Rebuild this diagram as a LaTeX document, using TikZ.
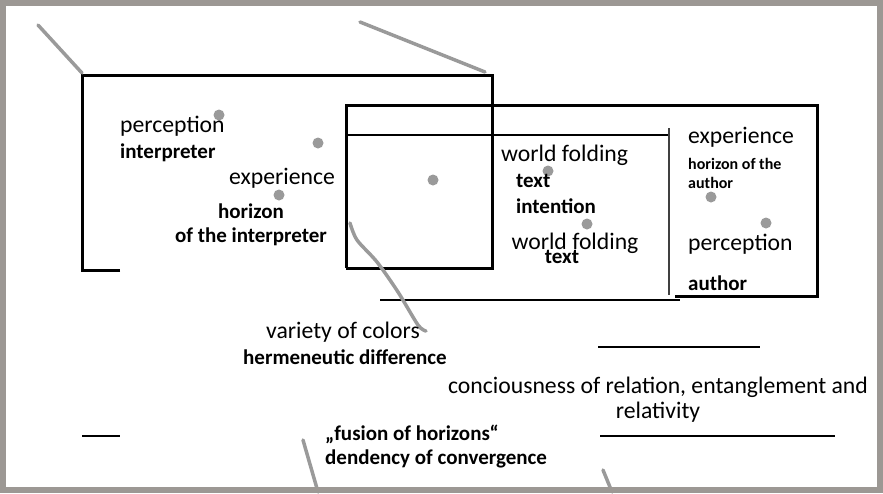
\documentclass[tikz,border=0pt]{standalone}
\usepackage{fontspec}
\setmainfont{Carlito}
\definecolor{penGray}{HTML}{9A9A9A}
\definecolor{frameGray}{HTML}{9C9894}

\begin{document}
\begin{tikzpicture}[x=1pt, y=-1pt,
  dot/.style={circle, fill=penGray, inner sep=0pt, minimum size=11pt},
  word/.style={inner sep=0pt, font=\fontsize{23.7}{25}\selectfont},
  tag/.style={inner sep=0pt, font=\fontsize{21}{24}\selectfont\bfseries},
  smalltag/.style={inner sep=0pt, font=\fontsize{16}{19}\selectfont\bfseries},
  box/.style={line width=3pt, black},
  rule/.style={line width=1.3pt, black},
  stroke/.style={line width=3.5pt, penGray, line cap=round},
]
\useasboundingbox (0,0) rectangle (883,493);

% boxes
\draw[box] (120,270) -- (82,270) -- (82,75) -- (492,75) -- (492,268) -- (346,268);
\draw[box] (346,268) -- (346,105) -- (817,105) -- (817,296) -- (675,296);
\draw[rule] (346,135) -- (669,135);
\draw[rule, black!75] (669,128) -- (669,295);
\draw[rule] (380,300) -- (680,300);

% loose rules
\draw[rule] (598,347) -- (760,347);
\draw[rule] (600,436) -- (835,436);
\draw[rule] (82,436) -- (120,436);

% pen strokes
\draw[stroke] (38,25) -- (82,73);
\draw[stroke] (360,22) -- (485,72);
\draw[stroke] plot[smooth] coordinates {(350,223) (357,240) (377,262) (398,292) (418,325) (426,331)};
\draw[stroke] (303,440) -- (318,492);
\draw[stroke] (603,470) -- (612,492);

% dots
\node[dot] (d1) at (219,115) {};
\node[dot] (d2) at (318,143) {};
\node[dot] (d3) at (279,195) {};
\node[dot] (d4) at (433,180) {};
\node[dot] (d5) at (548,171) {};
\node[dot] (d6) at (587,224) {};
\node[dot] (d7) at (711,197) {};
\node[dot] (d8) at (766,223) {};

% interpreter side
\node[word, anchor=west] (perc1) at (120,126) {perception};
\node[tag, anchor=west] (interp) at (120,153) {interpreter};
\node[word] (exp1) at (282,178) {experience};
\node[tag, align=center] (hor1) at (251,225) {horizon\\of the interpreter};

% text side
\node[word, anchor=west] (fold1) at (501,155) {world folding};
\node[tag, anchor=west] (text1) at (516,181) {text};
\node[tag, anchor=west] (intent) at (516,206) {intention};
\node[word] (fold2) at (575,243) {world folding};
\node[tag] (text2) at (562,257) {text};

% author side
\node[word, anchor=west] (exp2) at (688,137) {experience};
\node[smalltag, anchor=west, align=left] (hor2) at (688,173) {horizon of the\\author};
\node[word, anchor=west] (perc2) at (688,244) {perception};
\node[tag, anchor=west] (auth) at (688,283) {author};

% below
\node[word] (colors) at (343,332) {variety of colors};
\node[tag] (diff) at (345,357) {hermeneutic difference};
\node[word, align=center] (relat) at (658,400) {conciousness of relation, entanglement and\\relativity};
\node[tag, anchor=west, align=left] (fusion) at (325,447) {„fusion of horizons“\\dendency of convergence};

% frame
\draw[line width=6pt, frameGray] (3,3) rectangle (880,490);
\end{tikzpicture}
\end{document}
